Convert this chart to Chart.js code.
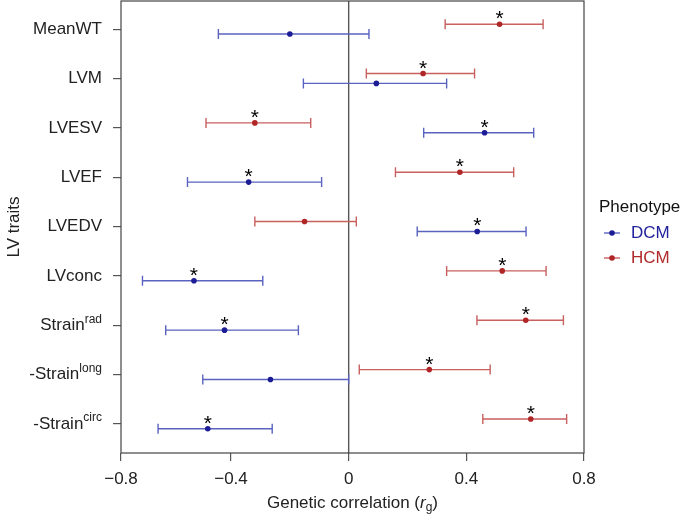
<!DOCTYPE html>
<html>
<head>
<meta charset="utf-8">
<script src="https://cdn.jsdelivr.net/npm/chart.js@4/dist/chart.umd.min.js"></script>
<style>
  html, body { margin: 0; padding: 0; background: #fff; }
  #wrap { width: 685px; height: 518px; position: relative; }
</style>
</head>
<body>
<div id="wrap"><canvas id="forestChart"></canvas></div>
<script>
// trait names (top to bottom) and their superscripts
const categories = ['MeanWT', 'LVM', 'LVESV', 'LVEF', 'LVEDV', 'LVconc', 'Strain', '-Strain', '-Strain'];
const superscripts = ['', '', '', '', '', '', 'rad', 'long', 'circ'];

// HCM estimates and intervals
const hcmEst  = [0.513, 0.253, -0.319, 0.378, -0.150, 0.522, 0.602, 0.274, 0.619];
const hcmLow  = [0.328, 0.060, -0.485, 0.159, -0.319, 0.333, 0.436, 0.036, 0.456];
const hcmHigh = [0.661, 0.428, -0.129, 0.561, 0.026, 0.671, 0.730, 0.481, 0.741];
const hcmSig  = [1, 1, 1, 1, 0, 1, 1, 1, 1];

// DCM estimates and intervals
const dcmEst  = [-0.200, 0.094, 0.462, -0.340, 0.437, -0.526, -0.422, -0.266, -0.479];
const dcmLow  = [-0.443, -0.154, 0.255, -0.548, 0.233, -0.701, -0.622, -0.496, -0.648];
const dcmHigh = [0.069, 0.333, 0.629, -0.092, 0.603, -0.292, -0.171, 0.000, -0.260];
const dcmSig  = [0, 0, 1, 1, 1, 1, 1, 0, 1];

// x axis ticks
const xTicks = [-0.8, -0.4, 0, 0.4, 0.8];
const xTickLabels = ['\u22120.8', '\u22120.4', '0', '0.4', '0.8'];

const FONT = "'Liberation Sans', Arial, sans-serif";
const DCM_POINT = '#1c1c96', DCM_BAR = '#5a63c0', DCM_TEXT = '#22229c';
const HCM_POINT = '#b02626', HCM_BAR = '#c95f5f', HCM_TEXT = '#b02a2a';
const OFFSET = 0.1;

Chart.defaults.font.family = FONT;
Chart.defaults.font.size = 17;
Chart.defaults.color = '#222';

const groups = [
    { est: hcmEst, low: hcmLow, high: hcmHigh, sig: hcmSig, off: -OFFSET, bar: HCM_BAR },
    { est: dcmEst, low: dcmLow, high: dcmHigh, sig: dcmSig, off: OFFSET, bar: DCM_BAR }
];

// error bars, zero line, stars, labels, legend
const forestPlugin = {
    id: 'forest',
    beforeDatasetsDraw(chart) {
        const { ctx, chartArea, scales: { x, y } } = chart;
        ctx.save();
        // vertical line at 0
        ctx.strokeStyle = '#555';
        ctx.lineWidth = 1.4;
        ctx.beginPath();
        ctx.moveTo(x.getPixelForValue(0), chartArea.top);
        ctx.lineTo(x.getPixelForValue(0), chartArea.bottom);
        ctx.stroke();
        // interval bars with caps
        ctx.lineWidth = 1.4;
        groups.forEach(g => {
            ctx.strokeStyle = g.bar;
            g.est.forEach((v, i) => {
                const py = y.getPixelForValue(i + 1 + g.off);
                const x0 = x.getPixelForValue(g.low[i]);
                const x1 = x.getPixelForValue(g.high[i]);
                ctx.beginPath();
                ctx.moveTo(x0, py); ctx.lineTo(x1, py);
                ctx.moveTo(x0, py - 5); ctx.lineTo(x0, py + 5);
                ctx.moveTo(x1, py - 5); ctx.lineTo(x1, py + 5);
                ctx.stroke();
            });
        });
        ctx.restore();
    },
    afterDraw(chart) {
        const { ctx, chartArea, scales: { x, y } } = chart;
        ctx.save();
        // frame
        ctx.strokeStyle = '#444';
        ctx.lineWidth = 1.2;
        ctx.strokeRect(chartArea.left, chartArea.top, chartArea.right - chartArea.left, chartArea.bottom - chartArea.top);

        // significance stars
        ctx.fillStyle = '#000';
        ctx.font = '21px ' + FONT;
        ctx.textAlign = 'center';
        ctx.textBaseline = 'alphabetic';
        groups.forEach(g => {
            g.est.forEach((v, i) => {
                if (!g.sig[i]) return;
                ctx.fillText('*', x.getPixelForValue(v), y.getPixelForValue(i + 1 + g.off) + 1);
            });
        });

        // y tick labels with superscripts
        ctx.fillStyle = '#222';
        ctx.textBaseline = 'middle';
        categories.forEach((c, i) => {
            const py = y.getPixelForValue(i + 1);
            const right = chartArea.left - 19;
            let supW = 0;
            if (superscripts[i]) {
                ctx.font = '12px ' + FONT;
                supW = ctx.measureText(superscripts[i]).width;
                ctx.textAlign = 'right';
                ctx.fillText(superscripts[i], right, py - 6);
            }
            ctx.font = '17px ' + FONT;
            ctx.textAlign = 'right';
            ctx.fillText(c, right - supW, py);
        });

        // x axis title: Genetic correlation (r_g)
        const parts = [
            { t: 'Genetic correlation (', f: '17px ' + FONT, dy: 0 },
            { t: 'r', f: 'italic 17px ' + FONT, dy: 0 },
            { t: 'g', f: '12px ' + FONT, dy: 5 },
            { t: ')', f: '17px ' + FONT, dy: 0 }
        ];
        let total = 0;
        parts.forEach(p => { ctx.font = p.f; p.w = ctx.measureText(p.t).width; total += p.w; });
        let cx = (chartArea.left + chartArea.right) / 2 - total / 2;
        ctx.textAlign = 'left';
        parts.forEach(p => {
            ctx.font = p.f;
            ctx.fillText(p.t, cx, 503 + p.dy);
            cx += p.w;
        });

        // legend
        ctx.font = '17px ' + FONT;
        ctx.fillStyle = '#111';
        ctx.fillText('Phenotype', 599, 207);
        [['DCM', DCM_POINT, DCM_BAR, DCM_TEXT, 233], ['HCM', HCM_POINT, HCM_BAR, HCM_TEXT, 258]].forEach(([name, pc, bc, tc, ly]) => {
            ctx.strokeStyle = bc;
            ctx.lineWidth = 1.4;
            ctx.beginPath();
            ctx.moveTo(604, ly); ctx.lineTo(620, ly);
            ctx.stroke();
            ctx.fillStyle = pc;
            ctx.beginPath();
            ctx.arc(612, ly, 2.8, 0, Math.PI * 2);
            ctx.fill();
            ctx.fillStyle = tc;
            ctx.fillText(name, 631, ly);
        });
        ctx.restore();
    }
};

const ctx = document.getElementById('forestChart').getContext('2d');
const forestChart = new Chart(ctx, {
    type: 'scatter',
    data: {
        datasets: [
            {
                label: 'HCM',
                data: hcmEst.map((v, i) => ({ x: v, y: i + 1 - OFFSET })),
                backgroundColor: HCM_POINT,
                borderColor: HCM_POINT,
                pointRadius: 2.8,
                borderWidth: 0
            },
            {
                label: 'DCM',
                data: dcmEst.map((v, i) => ({ x: v, y: i + 1 + OFFSET })),
                backgroundColor: DCM_POINT,
                borderColor: DCM_POINT,
                pointRadius: 2.8,
                borderWidth: 0
            }
        ]
    },
    options: {
        responsive: true,
        maintainAspectRatio: false,
        animation: false,
        layout: { autoPadding: false, padding: { top: 1, right: 101, left: 0, bottom: 0 } },
        plugins: {
            legend: { display: false },
            tooltip: { enabled: false }
        },
        scales: {
            x: {
                type: 'linear',
                min: -0.774,
                max: 0.8,
                afterBuildTicks: scale => {
                    scale.ticks = xTicks.map(v => ({ value: Math.max(v, scale.min) }));
                },
                afterFit: scale => { scale.height = 65; },
                ticks: {
                    padding: 8,
                    maxRotation: 0,
                    autoSkip: false,
                    callback: (value, index) => xTickLabels[index]
                },
                grid: { drawOnChartArea: false, drawTicks: true, tickLength: 8, color: '#555', lineWidth: 1.2 },
                border: { display: false }
            },
            y: {
                type: 'linear',
                reverse: true,
                min: 0.43,
                max: 9.59,
                afterBuildTicks: scale => {
                    scale.ticks = categories.map((c, i) => ({ value: i + 1 }));
                },
                afterFit: scale => { scale.width = 121; },
                ticks: { display: false, autoSkip: false },
                grid: { drawOnChartArea: false, drawTicks: true, tickLength: 8, color: '#555', lineWidth: 1.2 },
                border: { display: false },
                title: {
                    display: true,
                    text: 'LV traits',
                    color: '#222',
                    font: { size: 17 },
                    padding: { top: 4, bottom: 0 }
                }
            }
        }
    },
    plugins: [forestPlugin]
});
</script>
</body>
</html>
